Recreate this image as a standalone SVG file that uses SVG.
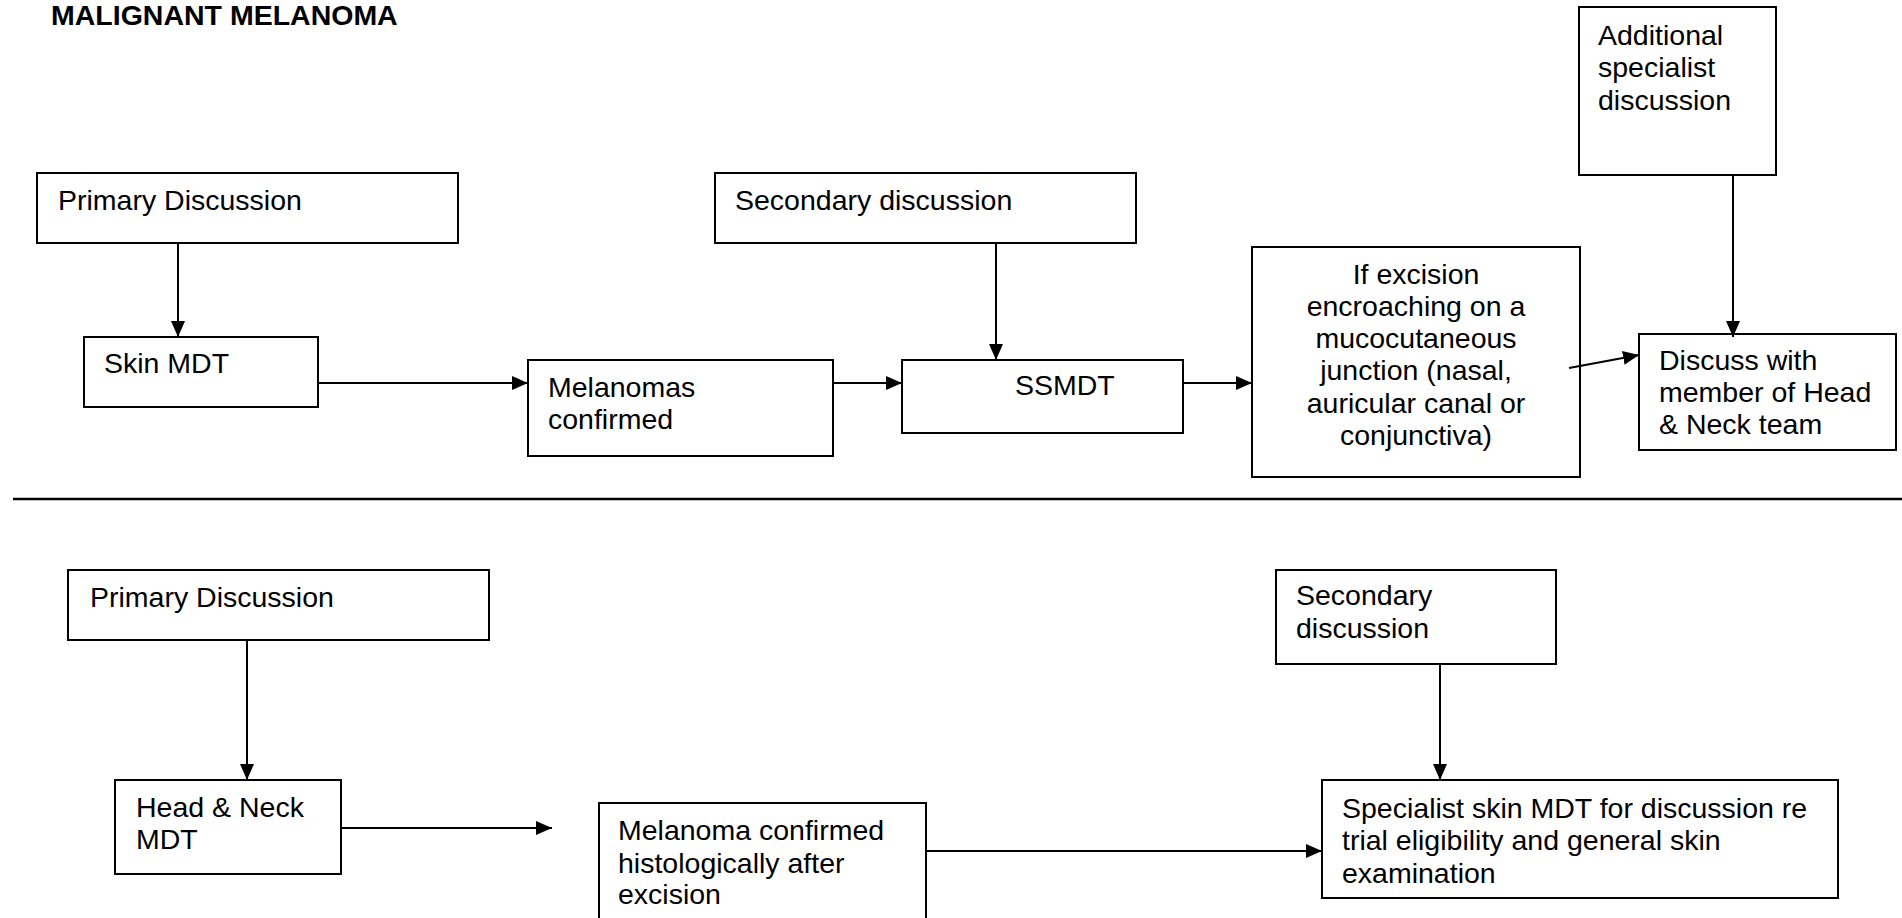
<svg xmlns="http://www.w3.org/2000/svg" width="1902" height="918" viewBox="0 0 1902 918">
  <style>
    .box { fill: #ffffff; stroke: #000000; stroke-width: 2; }
    .lbl { font-family: "Liberation Sans", Arial, sans-serif; font-size: 28.5px; fill: #000000; }
    .mid { text-anchor: middle; }
    .title { font-family: "Liberation Sans", Arial, sans-serif; font-size: 28.5px; font-weight: bold; fill: #000000; }
    .conn { stroke: #000000; stroke-width: 2; fill: none; marker-end: url(#ah); }
    .rule { stroke: #000000; stroke-width: 2.5; }
  </style>
  <defs>
    <marker id="ah" markerWidth="16" markerHeight="14" refX="16" refY="7" orient="auto" markerUnits="userSpaceOnUse">
      <path d="M0,0 L16,7 L0,14 Z" fill="#000000"/>
    </marker>
  </defs>
  <rect width="1902" height="918" fill="#ffffff"/>

  <text class="title" x="51" y="25">MALIGNANT MELANOMA</text>

  <!-- Upper pathway: skin MDT route -->
  <g id="primary-top">
    <rect class="box" x="37" y="173" width="421" height="70"/>
    <text class="lbl" x="58" y="210">Primary Discussion</text>
  </g>
  <g id="skin-mdt">
    <rect class="box" x="84" y="337" width="234" height="70"/>
    <text class="lbl" x="104" y="373">Skin MDT</text>
  </g>
  <g id="melanomas-confirmed">
    <rect class="box" x="528" y="360" width="305" height="96"/>
    <text class="lbl" x="548" y="397">Melanomas</text>
    <text class="lbl" x="548" y="429">confirmed</text>
  </g>
  <g id="secondary-top">
    <rect class="box" x="715" y="173" width="421" height="70"/>
    <text class="lbl" x="735" y="210">Secondary discussion</text>
  </g>
  <g id="ssmdt">
    <rect class="box" x="902" y="360" width="281" height="73"/>
    <text class="lbl" x="1015" y="395">SSMDT</text>
  </g>
  <g id="mucocutaneous">
    <rect class="box" x="1252" y="247" width="328" height="230"/>
    <text class="lbl mid" x="1416" y="284">If excision</text>
    <text class="lbl mid" x="1416" y="316">encroaching on a</text>
    <text class="lbl mid" x="1416" y="348">mucocutaneous</text>
    <text class="lbl mid" x="1416" y="380">junction (nasal,</text>
    <text class="lbl mid" x="1416" y="413">auricular canal or</text>
    <text class="lbl mid" x="1416" y="445">conjunctiva)</text>
  </g>
  <g id="additional-specialist">
    <rect class="box" x="1579" y="7" width="197" height="168"/>
    <text class="lbl" x="1598" y="45">Additional</text>
    <text class="lbl" x="1598" y="77">specialist</text>
    <text class="lbl" x="1598" y="110">discussion</text>
  </g>
  <g id="head-neck-member">
    <rect class="box" x="1639" y="334" width="257" height="116"/>
    <text class="lbl" x="1659" y="370">Discuss with</text>
    <text class="lbl" x="1659" y="402">member of Head</text>
    <text class="lbl" x="1659" y="434">&amp; Neck team</text>
  </g>

  <line class="rule" x1="13" y1="499" x2="1902" y2="499"/>

  <!-- Lower pathway: head and neck route -->
  <g id="primary-bottom">
    <rect class="box" x="68" y="570" width="421" height="70"/>
    <text class="lbl" x="90" y="607">Primary Discussion</text>
  </g>
  <g id="head-neck-mdt">
    <rect class="box" x="115" y="780" width="226" height="94"/>
    <text class="lbl" x="136" y="817">Head &amp; Neck</text>
    <text class="lbl" x="136" y="849">MDT</text>
  </g>
  <g id="melanoma-histology">
    <rect class="box" x="599" y="803" width="327" height="130"/>
    <text class="lbl" x="618" y="840">Melanoma confirmed</text>
    <text class="lbl" x="618" y="873">histologically after</text>
    <text class="lbl" x="618" y="904">excision</text>
  </g>
  <g id="secondary-bottom">
    <rect class="box" x="1276" y="570" width="280" height="94"/>
    <text class="lbl" x="1296" y="605">Secondary</text>
    <text class="lbl" x="1296" y="638">discussion</text>
  </g>
  <g id="specialist-skin-mdt">
    <rect class="box" x="1322" y="780" width="516" height="118"/>
    <text class="lbl" x="1342" y="818">Specialist skin MDT for discussion re</text>
    <text class="lbl" x="1342" y="850">trial eligibility and general skin</text>
    <text class="lbl" x="1342" y="883">examination</text>
  </g>

  <g id="connectors">
    <line class="conn" x1="178" y1="243" x2="178" y2="337"/>
    <line class="conn" x1="318" y1="383" x2="528" y2="383"/>
    <line class="conn" x1="833" y1="383" x2="902" y2="383"/>
    <line class="conn" x1="996" y1="243" x2="996" y2="360"/>
    <line class="conn" x1="1183" y1="383" x2="1252" y2="383"/>
    <line class="conn" x1="1569" y1="368" x2="1639" y2="355"/>
    <line class="conn" x1="1733" y1="175" x2="1733" y2="337"/>
    <line class="conn" x1="247" y1="640" x2="247" y2="780"/>
    <line class="conn" x1="341" y1="828" x2="552" y2="828"/>
    <line class="conn" x1="926" y1="851" x2="1322" y2="851"/>
    <line class="conn" x1="1440" y1="664" x2="1440" y2="780"/>
  </g>
</svg>
